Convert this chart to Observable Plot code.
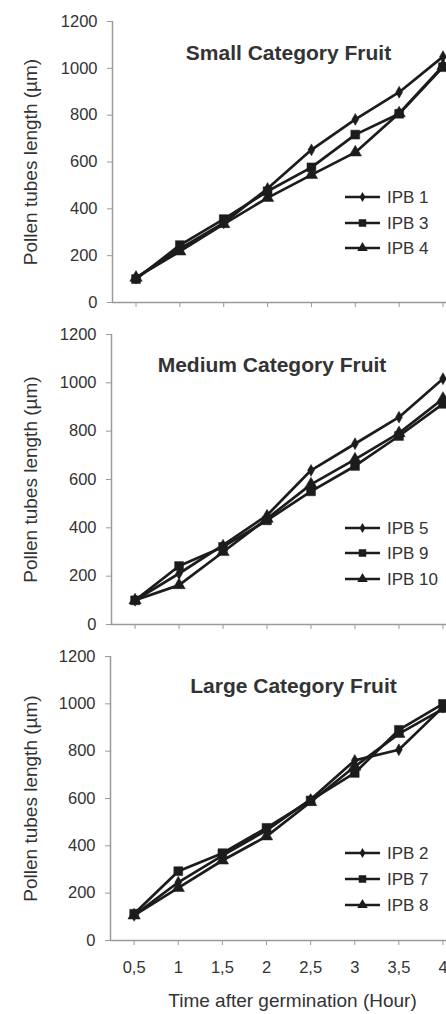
<!DOCTYPE html>
<html><head><meta charset="utf-8">
<script src="https://cdn.jsdelivr.net/npm/d3@7"></script>
<script src="https://cdn.jsdelivr.net/npm/@observablehq/plot@0.6"></script>
<style>
body{margin:0;background:#fff;font-family:"Liberation Sans",Arial,sans-serif;}
#chart{position:relative;width:446px;height:1014px;overflow:hidden;background:#fff;}
.panel{position:relative;display:block;}
.panel svg{display:block;}
.legend{position:absolute;left:0;top:0;}
</style></head><body><div id="chart"></div>
<script>
const hours = [0.5, 1, 1.5, 2, 2.5, 3, 3.5, 4];
const xTickLabels = ["0,5", "1", "1,5", "2", "2,5", "3", "3,5", "4"];
const yTicks = [0, 200, 400, 600, 800, 1000, 1200];
const panelTitles = ["Small Category Fruit", "Medium Category Fruit", "Large Category Fruit"];
const yLabel = "Pollen tubes length (µm)";
const xLabel = "Time after germination (Hour)";
const seriesNames = [["IPB 1", "IPB 3", "IPB 4"], ["IPB 5", "IPB 9", "IPB 10"], ["IPB 2", "IPB 7", "IPB 8"]];
const symbols = ["diamond", "square", "triangle"];

// Small category fruit
const ipb1 = [105, 230, 340, 487, 652, 782, 898, 1050];
const ipb3 = [100, 245, 356, 475, 577, 717, 806, 1005];
const ipb4 = [106, 218, 335, 447, 545, 641, 808, 1010];
// Medium category fruit
const ipb5 = [100, 211, 328, 452, 638, 748, 858, 1017];
const ipb9 = [100, 242, 321, 431, 551, 656, 780, 913];
const ipb10 = [100, 163, 300, 438, 580, 683, 792, 934];
// Large category fruit
const ipb2 = [106, 246, 359, 465, 596, 761, 806, 986];
const ipb7 = [113, 293, 369, 476, 592, 708, 890, 1000];
const ipb8 = [106, 222, 338, 440, 585, 735, 873, 979];

const seriesValues = [[ipb1, ipb3, ipb4], [ipb5, ipb9, ipb10], [ipb2, ipb7, ipb8]];

const ink = "#1c1c1c";
const axisGray = "#9a9a9a";
const textGray = "#333";
const symbolR = {diamond: 3.6, square: 5.0, triangle: 4.6};

const layouts = [
  {height: 318, mt: 21, mb: 16, ml: 112, titleDx: 9, titleDy: 24, legendTop: [197, 223, 248], showX: false},
  {height: 322, mt: 16, mb: 16, ml: 111, titleDx: -7, titleDy: 23, legendTop: [210, 235, 261], showX: false},
  {height: 374, mt: 16, mb: 74, ml: 110, titleDx: 15, titleDy: 22, legendTop: [213, 239, 265], showX: true}
];

const xDomain = [0.232, 4.04];
const chart = document.getElementById("chart");

layouts.forEach((L, i) => {
  const rows = [];
  seriesNames[i].forEach((name, k) => {
    hours.forEach((h, j) => rows.push({hour: h, value: seriesValues[i][k][j], series: name, sym: symbols[k]}));
  });
  const marks = [
    Plot.ruleY([0], {stroke: axisGray, strokeWidth: 1.5}),
    Plot.ruleX([xDomain[0]], {stroke: axisGray, strokeWidth: 1.5}),
    Plot.axisY(yTicks, {tickSize: 5, tickPadding: 10, stroke: axisGray, fill: textGray, fontSize: 16.5, label: null, tickFormat: d => String(d)}),
    Plot.axisX(hours, {tickSize: 5, tickPadding: 16, stroke: axisGray, fill: textGray, fontSize: 16.5, label: null,
      tickFormat: L.showX ? (d => xTickLabels[hours.indexOf(d)]) : (() => "")}),
    Plot.line(rows, {x: "hour", y: "value", z: "series", stroke: ink, strokeWidth: 2.7}),
    ...symbols.map(s => Plot.dot(rows.filter(r => r.sym === s), {x: "hour", y: "value", symbol: () => s, fill: ink, stroke: ink, strokeWidth: 0.5, r: symbolR[s]})),
    Plot.text([panelTitles[i]], {frameAnchor: "top", dx: L.titleDx, dy: L.titleDy, fontWeight: "bold", fontSize: 21, fill: textGray}),
    Plot.text([yLabel], {frameAnchor: "left", textAnchor: "middle", rotate: -90, dx: 30 - L.ml, fontSize: 19, fill: textGray})
  ];
  if (L.showX) marks.push(Plot.text([xLabel], {frameAnchor: "bottom", textAnchor: "middle", dx: 292 - (L.ml + 446) / 2, dy: 66, fontSize: 19, fill: textGray}));
  const p = Plot.plot({
    width: 446, height: L.height,
    marginLeft: L.ml, marginRight: 0, marginTop: L.mt, marginBottom: L.mb,
    style: {fontFamily: "'Liberation Sans', Arial, sans-serif", background: "transparent", overflow: "visible"},
    x: {domain: xDomain},
    y: {domain: [0, 1200]},
    symbol: {type: "identity"},
    marks
  });
  const wrap = document.createElement("div");
  wrap.className = "panel";
  wrap.style.height = L.height + "px";
  wrap.appendChild(p);
  // legend inside the panel
  const lg = d3.create("svg").attr("class", "legend").attr("width", 446).attr("height", L.height)
    .style("font-family", "'Liberation Sans', Arial, sans-serif");
  seriesNames[i].forEach((name, k) => {
    const g = lg.append("g").attr("transform", `translate(0,${L.legendTop[k]})`);
    g.append("line").attr("x1", 345).attr("x2", 380).attr("stroke", ink).attr("stroke-width", 2.4);
    const symType = {diamond: d3.symbolDiamond, square: d3.symbolSquare, triangle: d3.symbolTriangle}[symbols[k]];
    const rr = symbolR[symbols[k]] * 0.85;
    g.append("path").attr("transform", "translate(362.5,0)").attr("d", d3.symbol(symType, Math.PI * rr * rr)()).attr("fill", ink);
    g.append("text").attr("x", 387).attr("dy", "0.35em").attr("font-size", 17).attr("fill", textGray).text(name);
  });
  wrap.appendChild(lg.node());
  chart.appendChild(wrap);
});
</script></body></html>
